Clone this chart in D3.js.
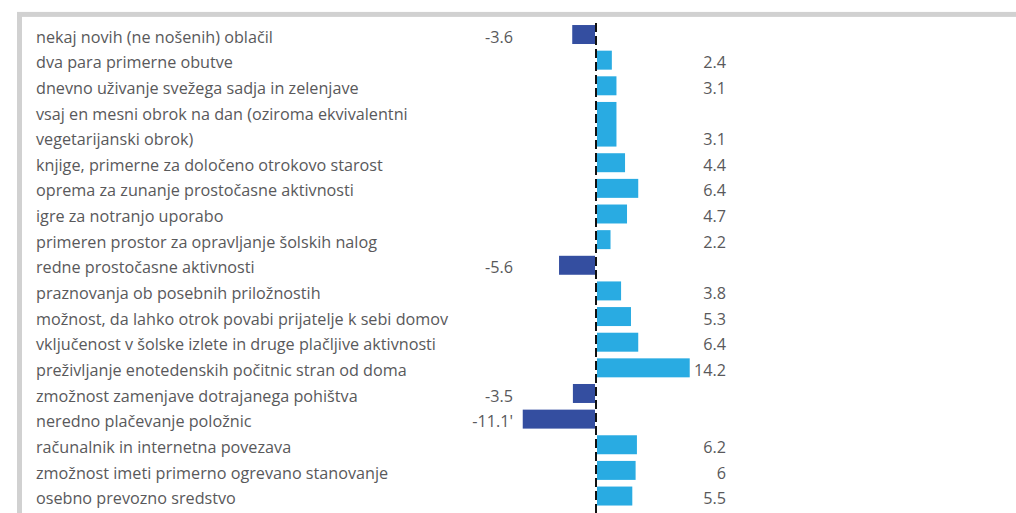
<!DOCTYPE html>
<html>
<head>
<meta charset="utf-8">
<title>Primanjkljaji</title>
<script src="https://d3js.org/d3.v7.min.js"></script>
<style>
  body { margin: 0; background: #fff; }
  svg text { font-family: "Open Sans", "Noto Sans", sans-serif; fill: #59595b; }
</style>
</head>
<body>
<div id="chart"></div>
<script>
// categories (array of lines per category), values and label notes
var categories = [
  ["nekaj novih (ne nošenih) oblačil"],
  ["dva para primerne obutve"],
  ["dnevno uživanje svežega sadja in zelenjave"],
  ["vsaj en mesni obrok na dan (oziroma ekvivalentni", "vegetarijanski obrok)"],
  ["knjige, primerne za določeno otrokovo starost"],
  ["oprema za zunanje prostočasne aktivnosti"],
  ["igre za notranjo uporabo"],
  ["primeren prostor za opravljanje šolskih nalog"],
  ["redne prostočasne aktivnosti"],
  ["praznovanja ob posebnih priložnostih"],
  ["možnost, da lahko otrok povabi prijatelje k sebi domov"],
  ["vključenost v šolske izlete in druge plačljive aktivnosti"],
  ["preživljanje enotedenskih počitnic stran od doma"],
  ["zmožnost zamenjave dotrajanega pohištva"],
  ["neredno plačevanje položnic"],
  ["računalnik in internetna povezava"],
  ["zmožnost imeti primerno ogrevano stanovanje"],
  ["osebno prevozno sredstvo"]
];
var values = [-3.6, 2.4, 3.1, 3.1, 4.4, 6.4, 4.7, 2.2, -5.6, 3.8, 5.3, 6.4, 14.2, -3.5, -11.1, 6.2, 6, 5.5];
var notes  = ["", "", "", "", "", "", "", "", "", "", "", "", "", "", "'", "", "", ""];

var width = 1016, height = 513;
var svg = d3.select("#chart").append("svg")
    .attr("width", width)
    .attr("height", height);

// grey frame
svg.append("rect")
    .attr("x", 19.5).attr("y", 14.4)
    .attr("width", 1100).attr("height", 600)
    .attr("fill", "#fff")
    .attr("stroke", "#d1d1d1")
    .attr("stroke-width", 5);

// each category takes one or more text lines
var rows = [], line = 0;
categories.forEach(function(c, i) {
  rows.push({ lines: c, value: values[i], note: notes[i], first: line, last: line + c.length - 1 });
  line += c.length;
});

var y = d3.scaleBand()
    .domain(d3.range(line))
    .range([21.7, 21.7 + 25.64 * line])
    .paddingInner(0.26)
    .paddingOuter(0.13);

var x = d3.scaleLinear()
    .domain([-15, 15])
    .range([497, 695]);

var fontSize = 16.2;

var g = svg.selectAll("g.row")
    .data(rows)
  .enter().append("g")
    .attr("class", "row");

g.append("rect")
    .attr("x", function(d) { return d.value < 0 ? x(d.value) : x(0) + 1; })
    .attr("y", function(d) { return y(d.first); })
    .attr("width", function(d) { return Math.abs(x(d.value) - x(0)) - 1; })
    .attr("height", function(d) { return y(d.last) + y.bandwidth() - y(d.first); })
    .attr("fill", function(d) { return d.value < 0 ? "#344ea0" : "#29abe2"; });

g.each(function(d) {
  var sel = d3.select(this);
  d.lines.forEach(function(t, k) {
    sel.append("text")
        .attr("x", 36)
        .attr("y", y(d.first + k) + y.bandwidth() / 2)
        .attr("dy", "0.5em")
        .style("font-size", fontSize + "px")
        .text(t);
  });
});

g.append("text")
    .attr("x", function(d) { return d.value < 0 ? 513 : 726; })
    .attr("y", function(d) { return y(d.last) + y.bandwidth() / 2; })
    .attr("dy", "0.5em")
    .attr("text-anchor", "end")
    .style("font-size", fontSize + "px")
    .text(function(d) { return String(d.value) + d.note; });

// dashed zero line
svg.append("line")
    .attr("x1", x(0)).attr("x2", x(0))
    .attr("y1", 23).attr("y2", height)
    .attr("stroke", "#111")
    .attr("stroke-width", 2)
    .attr("stroke-dasharray", "9,4");
</script>
</body>
</html>
